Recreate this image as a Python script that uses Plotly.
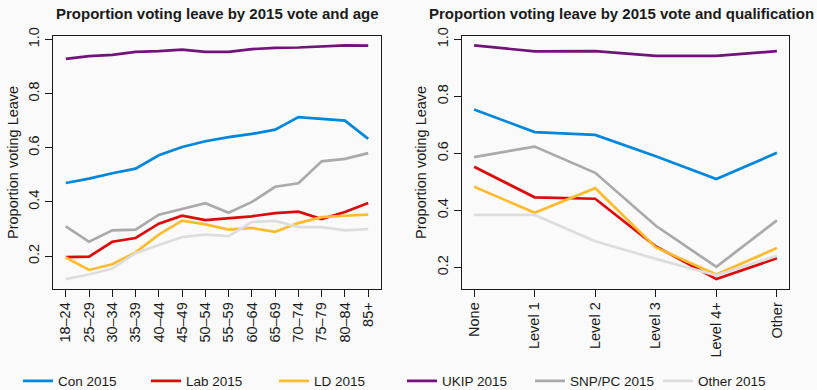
import plotly.graph_objects as go

ages = ["18\u201324", "25\u201329", "30\u201334", "35\u201339", "40\u201344", "45\u201349", "50\u201354",
        "55\u201359", "60\u201364", "65\u201369", "70\u201374", "75\u201379", "80\u201384", "85+"]
quals = ["None", "Level 1", "Level 2", "Level 3", "Level 4+", "Other"]

parties = ["Con 2015", "Lab 2015", "LD 2015", "UKIP 2015", "SNP/PC 2015", "Other 2015"]
colors = ["#0087DC", "#DC0A0A", "#FDBB30", "#70147A", "#AAAAAA", "#DDDDDD"]

age_con = [0.470, 0.486, 0.506, 0.523, 0.572, 0.603, 0.624, 0.639, 0.651, 0.667, 0.713, 0.707, 0.700, 0.633]
age_lab = [0.196, 0.198, 0.253, 0.267, 0.320, 0.349, 0.333, 0.340, 0.347, 0.359, 0.364, 0.337, 0.363, 0.396]
age_ld = [0.195, 0.149, 0.170, 0.214, 0.279, 0.331, 0.317, 0.298, 0.304, 0.290, 0.322, 0.344, 0.349, 0.353]
age_ukip = [0.928, 0.938, 0.943, 0.954, 0.957, 0.962, 0.954, 0.954, 0.964, 0.969, 0.970, 0.974, 0.978, 0.977]
age_snp = [0.310, 0.253, 0.295, 0.298, 0.353, 0.375, 0.395, 0.360, 0.400, 0.456, 0.469, 0.550, 0.559, 0.580]
age_oth = [0.115, 0.132, 0.154, 0.211, 0.241, 0.270, 0.279, 0.274, 0.326, 0.330, 0.307, 0.307, 0.295, 0.300]

qual_con = [0.754, 0.675, 0.665, 0.590, 0.510, 0.602]
qual_lab = [0.553, 0.446, 0.441, 0.274, 0.159, 0.232]
qual_ld = [0.483, 0.392, 0.478, 0.270, 0.175, 0.268]
qual_ukip = [0.979, 0.958, 0.959, 0.942, 0.942, 0.959]
qual_snp = [0.587, 0.624, 0.532, 0.346, 0.202, 0.365]
qual_oth = [0.384, 0.384, 0.292, 0.230, 0.172, 0.241]

age_series = [age_con, age_lab, age_ld, age_ukip, age_snp, age_oth]
qual_series = [qual_con, qual_lab, qual_ld, qual_ukip, qual_snp, qual_oth]

yticks = [0.2, 0.4, 0.6, 0.8, 1.0]
ytick_text = ["0.2", "0.4", "0.6", "0.8", "1.0"]

FONT = "Liberation Sans, Arial, Helvetica, sans-serif"
INK = "#1a1a1a"

fig = go.Figure()
for name, col, ys in zip(parties, colors, age_series):
    fig.add_trace(go.Scatter(x=ages, y=ys, mode="lines", name=name,
                             line=dict(color=col, width=2.7), xaxis="x", yaxis="y",
                             legendgroup=name))
for name, col, ys in zip(parties, colors, qual_series):
    fig.add_trace(go.Scatter(x=quals, y=ys, mode="lines", name=name,
                             line=dict(color=col, width=2.7), xaxis="x2", yaxis="y2",
                             legendgroup=name, showlegend=False))

W, H = 817, 390
lx0, lx1 = 53, 381
rx0, rx1 = 462, 789
ytop, ybot = 36, 288.5

common_axis = dict(showline=True, mirror=True, linecolor=INK, linewidth=1,
                   ticks="outside", ticklen=7, tickwidth=1, tickcolor=INK,
                   showgrid=False, zeroline=False,
                   tickfont=dict(family=FONT, size=14.5, color=INK))

fig.update_layout(
    width=W, height=H,
    margin=dict(l=0, r=0, t=0, b=0, autoexpand=False),
    paper_bgcolor="#fafafa", plot_bgcolor="#fafafa",
    font=dict(family=FONT, color=INK),
    xaxis=dict(domain=[lx0 / W, lx1 / W], range=[-0.55, 13.55], tickangle=-90,
               anchor="y", **common_axis),
    yaxis=dict(domain=[1 - ybot / H, 1 - ytop / H], range=[0.0805, 1.0125],
               tickvals=yticks, ticktext=ytick_text, tickangle=-90, anchor="x", **common_axis),
    xaxis2=dict(domain=[rx0 / W, rx1 / W], range=[-0.2, 5.2], tickangle=-90,
                anchor="y2", **common_axis),
    yaxis2=dict(domain=[1 - ybot / H, 1 - ytop / H], range=[0.126, 1.012],
                tickvals=yticks, ticktext=ytick_text, tickangle=-90, anchor="x2", **common_axis),
    showlegend=True,
    legend=dict(orientation="h", x=18 / W, xanchor="left", y=9 / H, yanchor="middle",
                entrywidth=83, entrywidthmode="pixels", bgcolor="rgba(0,0,0,0)",
                font=dict(family=FONT, size=13.5, color=INK), tracegroupgap=0),
    annotations=[
        dict(text="<b>Proportion voting leave by 2015 vote and age</b>", x=217 / W, y=1 - 14 / H,
             xref="paper", yref="paper", showarrow=False, xanchor="center", yanchor="middle",
             font=dict(family=FONT, size=15, color=INK)),
        dict(text="<b>Proportion voting leave by 2015 vote and qualification</b>", x=621 / W, y=1 - 14 / H,
             xref="paper", yref="paper", showarrow=False, xanchor="center", yanchor="middle",
             font=dict(family=FONT, size=15, color=INK)),
        dict(text="Proportion voting Leave", x=13 / W, y=1 - 163 / H, textangle=-90,
             xref="paper", yref="paper", showarrow=False, xanchor="center", yanchor="middle",
             font=dict(family=FONT, size=14.5, color=INK)),
        dict(text="Proportion voting Leave", x=421 / W, y=1 - 163 / H, textangle=-90,
             xref="paper", yref="paper", showarrow=False, xanchor="center", yanchor="middle",
             font=dict(family=FONT, size=14.5, color=INK)),
    ],
)

fig.write_html("out.html")
